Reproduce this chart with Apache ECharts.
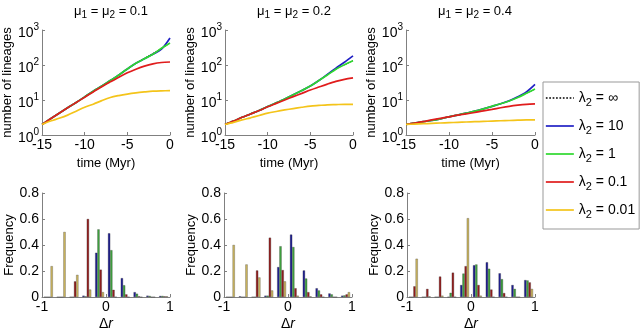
<!DOCTYPE html>
<html><head><meta charset="utf-8">
<script src="https://cdn.jsdelivr.net/npm/echarts@6/dist/echarts.min.js"></script>
<style>html,body{margin:0;padding:0;background:#fff}#c{width:640px;height:332px}</style>
</head><body><div id="c"></div>
<script>
// ---- data ----
const tMyr = [-15,-14,-13,-12,-11,-10,-9,-8,-7,-6,-5,-4,-3,-2,-1,0];
const muTitles = ['0.1','0.2','0.4'];
const lambdaLabels = ['∞','10','1','0.1','0.01'];
// lineages through time, mu = 0.1
const mu01_inf  = [2,2.9,4.2,6.0,8.5,12.3,17.8,25,36,52,76,110,155,215,300,420];
const mu01_l10  = [2,2.9,4.2,6.0,8.5,12.3,17.8,25,36,52,77,112,151,204,282,590];
const mu01_l1   = [2,2.9,4.2,6.0,8.5,12.3,17.8,25,36,52,77,112,151,204,300,425];
const mu01_l01  = [2,2.9,4.2,6.0,8.5,12.0,17,24,33,45,60,76,93,108,118,122];
const mu01_l001 = [2,2.5,3.0,3.7,4.8,6.2,7.6,9.6,11.8,13.4,14.8,16.0,17.0,17.9,18.3,18.5];
// mu = 0.2
const mu02_inf  = [2,2.5,3.2,4.0,5.0,6.5,8.3,10.7,14.1,18.6,25,36,54,76,100,135];
const mu02_l10  = [2,2.5,3.2,4.0,5.0,6.5,8.3,10.7,14.1,18.6,25,36,54,81,120,182];
const mu02_l1   = [2,2.5,3.2,4.0,5.0,6.5,8.3,10.7,14.1,18.6,25,36,52,76,102,132];
const mu02_l01  = [2,2.5,3.2,4.0,5.0,6.4,8.0,10.0,12.5,15.5,19.3,23.5,28.5,34,39,43];
const mu02_l001 = [2,2.3,2.7,3.1,3.6,4.2,4.7,5.2,5.7,6.2,6.7,7.0,7.3,7.4,7.5,7.5];
// mu = 0.4
const mu04_inf  = [2,2.2,2.4,2.6,2.9,3.3,3.7,4.2,4.8,5.6,6.6,7.8,9.4,11.8,15.5,20.5];
const mu04_l10  = [2,2.2,2.4,2.6,2.9,3.3,3.7,4.2,4.8,5.6,6.6,7.8,9.5,12.3,17,28];
const mu04_l1   = [2,2.2,2.4,2.6,2.9,3.3,3.7,4.2,4.8,5.6,6.6,7.8,9.4,11.8,15.5,20.5];
const mu04_l01  = [2,2.2,2.4,2.7,3.0,3.3,3.7,4.0,4.4,4.9,5.4,6.0,6.6,7.1,7.5,7.7];
const mu04_l001 = [2,2.05,2.1,2.15,2.2,2.25,2.3,2.35,2.4,2.45,2.5,2.55,2.6,2.65,2.7,2.7];
// histogram bins (centres) and frequencies
const binCentres = [-0.9,-0.7,-0.5,-0.3,-0.1,0.1,0.3,0.5,0.7,0.9];
const h01_l10  = [0,0,0,0.01,0.34,0.49,0.145,0.037,0.01,0.008];
const h01_l1   = [0,0,0,0.005,0.52,0.36,0.09,0.025,0.008,0.008];
const h01_l01  = [0,0,0.12,0.60,0.21,0.055,0.02,0.005,0,0.005];
const h01_l001 = [0.237,0.50,0.17,0.057,0.037,0,0,0,0,0.005];
const h02_l10  = [0,0.005,0,0.01,0.23,0.48,0.204,0.067,0.027,0.01];
const h02_l1   = [0,0,0,0.01,0.39,0.384,0.142,0.05,0.02,0.012];
const h02_l01  = [0,0,0.204,0.456,0.207,0.067,0.037,0.02,0,0.02];
const h02_l001 = [0.40,0.25,0.15,0.05,0.12,0.01,0.005,0,0,0.037];
const h04_l10  = [0,0,0,0,0.092,0.244,0.267,0.182,0.092,0.13];
const h04_l1   = [0,0,0,0.032,0.18,0.25,0.217,0.137,0.062,0.127];
const h04_l01  = [0.082,0.062,0.157,0.187,0.237,0.092,0.057,0.03,0,0.112];
const h04_l001 = [0.294,0.005,0.01,0,0.606,0.01,0,0,0,0.062];

const lttSets = [
  [mu01_inf, mu01_l10, mu01_l1, mu01_l01, mu01_l001],
  [mu02_inf, mu02_l10, mu02_l1, mu02_l01, mu02_l001],
  [mu04_inf, mu04_l10, mu04_l1, mu04_l01, mu04_l001]
];
const histSets = [
  [h01_l10, h01_l1, h01_l01, h01_l001],
  [h02_l10, h02_l1, h02_l01, h02_l001],
  [h04_l10, h04_l1, h04_l01, h04_l001]
];

// ---- style ----
const FONT = 'Liberation Sans, Arial, sans-serif';
const lineColors = ['#000000','#2020c4','#2ed82e','#e01c1c','#f4c41a'];
const barColors  = ['#1e1e92','#3fa33f','#951e1e','#cdb65e'];
const axisGray = '#808080';
const topLefts = [42,225,406], topWidths = [128,128,129];
const botLefts = [42,224,407], botWidths = [128,128,128];
const titleCx = [106,289,470];

const grids = [], xAxes = [], yAxes = [], series = [], titles = [];
function seriesName(i){ return lambdaLabels[i]; }

for (let p = 0; p < 3; p++) {
  grids.push({left: topLefts[p], width: topWidths[p], top: 30, height: 105});
  titles.push({
    text: '{m|μ}{s|1}{t| = }{m|μ}{s|2}{t| = ' + muTitles[p] + '}',
    left: titleCx[p], top: -2, textAlign: 'center',
    textStyle: {rich: {
      m: {fontFamily: FONT, fontSize: 13, color: '#000', fontWeight: 'normal'},
      t: {fontFamily: FONT, fontSize: 13, color: '#000', fontWeight: 'normal'},
      s: {fontFamily: FONT, fontSize: 10, color: '#000', fontWeight: 'normal', padding: [7,0,0,0]}
    }}
  });
}
for (let p = 0; p < 3; p++) {
  grids.push({left: botLefts[p], width: botWidths[p], top: 193, height: 107});
}

const tickLabel = {fontFamily: FONT, fontSize: 14, color: '#000'};
// top panels
for (let p = 0; p < 3; p++) {
  xAxes.push({
    type: 'value', gridIndex: p, min: -15, max: 0, interval: 5, position: 'bottom',
    axisLine: {onZero: false, lineStyle: {color: axisGray}}, axisTick: {inside: true, length: 3, lineStyle: {color: axisGray}},
    axisLabel: Object.assign({margin: 3}, tickLabel), splitLine: {show: false},
    name: 'time (Myr)', nameLocation: 'middle', nameGap: 22,
    nameTextStyle: {fontFamily: FONT, fontSize: 13, color: '#000'}
  });
  yAxes.push({
    type: 'log', logBase: 10, gridIndex: p, min: 1, max: 1000, position: 'left',
    axisLine: {show: true, onZero: false, lineStyle: {color: axisGray}}, axisTick: {show: true, inside: true, length: 3, lineStyle: {color: axisGray}},
    splitLine: {show: false},
    axisLabel: {margin: 3, formatter: v => '{b|10}{e|' + Math.round(Math.log10(v)) + '}',
      rich: {b: {fontFamily: FONT, fontSize: 14, color: '#000', padding: [6,0,0,0]},
             e: {fontFamily: FONT, fontSize: 10, color: '#000', padding: [0,0,6,0]}}},
    name: 'number of lineages', nameLocation: 'middle', nameGap: 25,
    nameTextStyle: {fontFamily: FONT, fontSize: 13, color: '#000'}
  });
}
// bottom panels: hidden category axis for bars + visible value axis
for (let p = 0; p < 3; p++) {
  const g = 3 + p;
  xAxes.push({
    type: 'category', gridIndex: g, data: binCentres, show: false, boundaryGap: true, position: 'bottom'
  });
  xAxes.push({
    type: 'value', gridIndex: g, min: -1, max: 1, interval: 1, position: 'bottom',
    axisLine: {onZero: false, lineStyle: {color: axisGray}}, axisTick: {inside: true, length: 3, lineStyle: {color: axisGray}},
    axisLabel: Object.assign({margin: 3}, tickLabel), splitLine: {show: false},
    name: '{d|Δ}{i|r}', nameLocation: 'middle', nameGap: 20,
    nameTextStyle: {rich: {d: {fontFamily: FONT, fontSize: 14, color: '#000'},
                           i: {fontFamily: FONT, fontSize: 14, color: '#000', fontStyle: 'italic'}}}
  });
  yAxes.push({
    type: 'value', gridIndex: g, min: 0, max: 0.8, interval: 0.2, position: 'left',
    axisLine: {show: true, onZero: false, lineStyle: {color: axisGray}}, axisTick: {show: true, inside: true, length: 3, lineStyle: {color: axisGray}},
    splitLine: {show: false},
    axisLabel: Object.assign({margin: 3, formatter: v => (v === 0 ? '0' : String(Math.round(v*10)/10))}, tickLabel),
    name: 'Frequency', nameLocation: 'middle', nameGap: 25,
    nameTextStyle: {fontFamily: FONT, fontSize: 13, color: '#000'}
  });
}

// line series
for (let p = 0; p < 3; p++) {
  for (let s = 0; s < 5; s++) {
    series.push({
      type: 'line', name: seriesName(s), xAxisIndex: p, yAxisIndex: p,
      data: tMyr.map((t, i) => [t, lttSets[p][s][i]]),
      symbol: 'none', smooth: 0.3, animation: false,
      lineStyle: {color: lineColors[s], width: s === 0 ? 1 : 1.7, type: s === 0 ? 'dotted' : 'solid'},
      itemStyle: {color: lineColors[s]}, z: 2 + s
    });
  }
}
// bar series
for (let p = 0; p < 3; p++) {
  const catAxis = 3 + p * 2;
  for (let s = 0; s < 4; s++) {
    series.push({
      type: 'bar', name: seriesName(s + 1), xAxisIndex: catAxis, yAxisIndex: 3 + p,
      data: histSets[p][s], barWidth: 2.2, barGap: '0%', animation: false,
      itemStyle: {color: barColors[s], borderColor: '#333', borderWidth: 0.3}
    });
  }
}

const chart = echarts.init(document.getElementById('c'), null, {renderer: 'canvas'});
chart.setOption({
  animation: false,
  title: titles,
  grid: grids, xAxis: xAxes, yAxis: yAxes, series: series,
  legend: {
    data: lambdaLabels,
    selectedMode: false, orient: 'vertical', left: 543, top: 82,
    itemWidth: 28, itemHeight: 12, itemGap: 11,
    padding: [9, 4, 9, 2],
    itemStyle: {opacity: 0},
    lineStyle: {width: 1.7},
    backgroundColor: '#fff', borderColor: '#999', borderWidth: 1,
    formatter: n => '{l|λ}{s|2}{t| = ' + n + '}',
    textStyle: {rich: {
      l: {fontFamily: FONT, fontSize: 14, color: '#000'},
      t: {fontFamily: FONT, fontSize: 14, color: '#000'},
      s: {fontFamily: FONT, fontSize: 11, color: '#000', padding: [9,0,0,0]}
    }}
  }
});
</script></body></html>
